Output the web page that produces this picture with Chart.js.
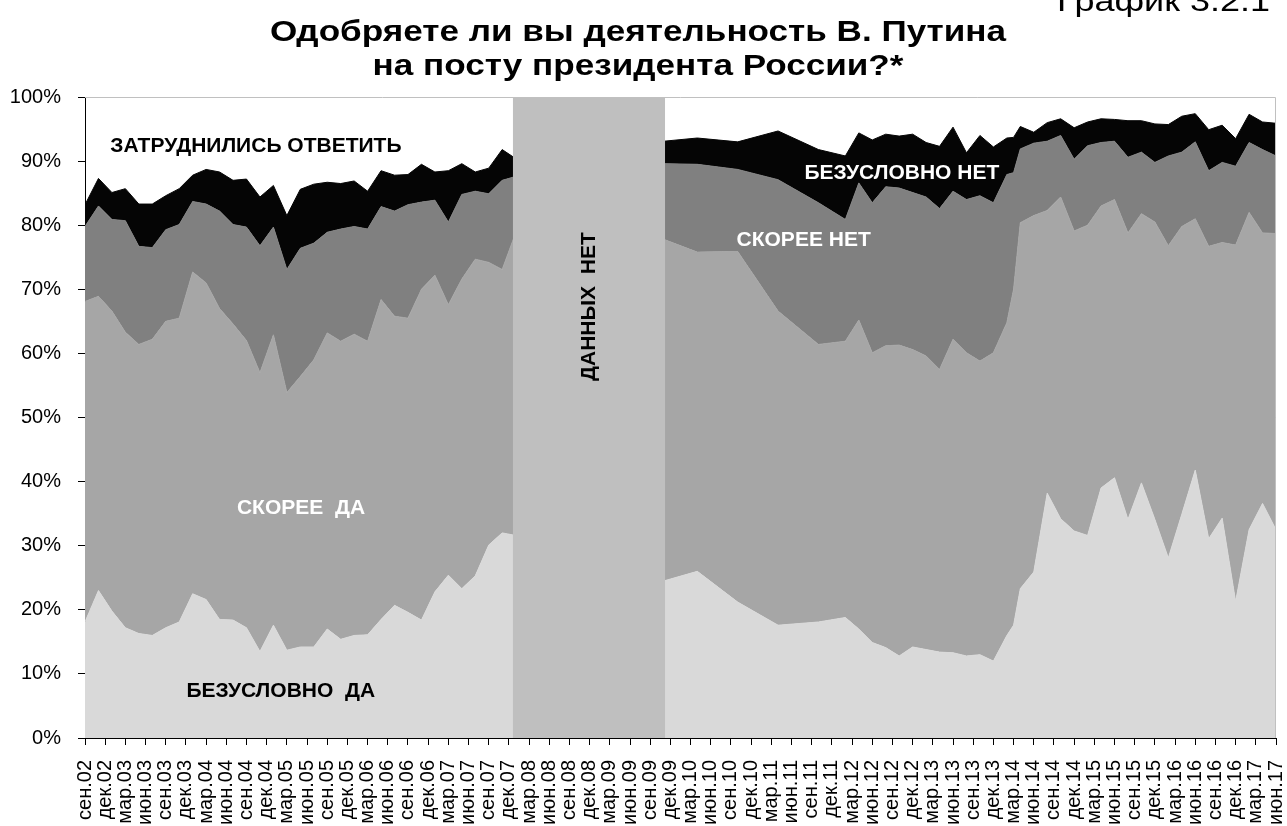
<!DOCTYPE html>
<html lang="ru">
<head>
<meta charset="utf-8">
<title>Одобряете ли вы деятельность В. Путина на посту президента России?</title>
<script src="https://cdn.jsdelivr.net/npm/chart.js@4.4.1/dist/chart.umd.min.js"></script>
<style>
  html, body { margin: 0; padding: 0; background: #fff; }
  #wrap { position: relative; width: 1287px; height: 826px; }
</style>
</head>
<body>
<div id="wrap"><canvas id="putinChart" width="1287" height="826"></canvas></div>
<script>
// x = months counted from Sep 2002 (0) to Jun 2017 (177), ticks every quarter
const tickLabels = [
    'сен.02', 'дек.02', 'мар.03', 'июн.03', 'сен.03', 'дек.03', 'мар.04', 'июн.04', 'сен.04', 'дек.04',
    'мар.05', 'июн.05', 'сен.05', 'дек.05', 'мар.06', 'июн.06', 'сен.06', 'дек.06', 'мар.07', 'июн.07',
    'сен.07', 'дек.07', 'мар.08', 'июн.08', 'сен.08', 'дек.08', 'мар.09', 'июн.09', 'сен.09', 'дек.09',
    'мар.10', 'июн.10', 'сен.10', 'дек.10', 'мар.11', 'июн.11', 'сен.11', 'дек.11', 'мар.12', 'июн.12',
    'сен.12', 'дек.12', 'мар.13', 'июн.13', 'сен.13', 'дек.13', 'мар.14', 'июн.14', 'сен.14', 'дек.14',
    'мар.15', 'июн.15', 'сен.15', 'дек.15', 'мар.16', 'июн.16', 'сен.16', 'дек.16', 'мар.17', 'июн.17'
];

// 2002-2008 surveys
const monthsA = [0, 2, 4, 6, 8, 10, 12, 14, 16, 18, 20, 22, 24, 26, 28, 30, 32,
    34, 36, 38, 40, 42, 44, 46, 48, 50, 52, 54, 56, 58, 60, 62, 64];
const defYesA = [18.1, 23.0, 19.8, 17.2, 16.3, 16.0, 17.2, 18.1, 22.5, 21.6, 18.5, 18.4, 17.2, 13.5, 17.6, 13.7, 14.2,
    14.2, 17.0, 15.4, 16.0, 16.1, 18.5, 20.7, 19.6, 18.4, 22.8, 25.4, 23.3, 25.3, 30.1, 32.0, 31.6];
const ratherYesA = [50.0, 45.9, 46.8, 46.1, 45.1, 46.2, 47.8, 47.4, 50.2, 49.4, 48.5, 46.2, 44.8, 43.5, 45.3, 40.2, 42.2,
    44.8, 46.2, 46.5, 47.0, 45.8, 49.9, 45.1, 45.9, 51.6, 49.4, 42.2, 48.3, 49.4, 44.1, 41.1, 47.2];
const ratherNoA = [11.7, 14.1, 14.3, 17.4, 15.3, 14.3, 14.3, 14.6, 11.0, 12.3, 15.2, 15.5, 17.7, 19.8, 16.8, 19.2, 20.0,
    18.2, 15.7, 17.5, 16.8, 17.5, 14.5, 16.4, 17.7, 13.6, 11.7, 12.9, 13.2, 10.6, 10.7, 13.9, 8.8];
const defNoA = [3.4, 4.3, 4.2, 5.0, 6.6, 6.8, 5.3, 5.6, 4.1, 5.4, 6.1, 6.9, 7.5, 7.6, 6.5, 8.4, 9.2,
    9.2, 7.8, 7.1, 7.1, 5.9, 5.6, 5.6, 4.7, 5.9, 4.4, 8.0, 4.8, 3.0, 4.0, 4.8, 2.8];

// 2009-2017 surveys
const monthsB = [86, 91, 97, 103, 109, 113, 115, 117, 119, 121, 123, 125, 127, 129, 131, 133, 135, 137, 138, 139,
    141, 143, 145, 147, 149, 151, 153, 155, 157, 159, 161, 163, 165, 167, 169, 171, 173, 175, 177];
const defYesB = [24.5, 26.0, 21.2, 17.6, 18.1, 18.8, 17.0, 14.9, 14.1, 12.8, 14.2, 13.8, 13.4, 13.3, 12.8, 13.0, 12.0, 16.0, 17.6, 23.3,
    25.9, 38.2, 34.2, 32.3, 31.6, 39.0, 40.6, 34.1, 39.8, 34.1, 28.1, 34.9, 41.8, 31.1, 34.3, 21.3, 32.5, 36.6, 32.5];
const ratherYesB = [53.3, 49.8, 54.7, 49.0, 43.3, 43.1, 48.2, 45.2, 47.1, 48.5, 46.4, 45.8, 44.1, 48.9, 47.3, 45.8, 48.1, 48.8, 52.4, 57.1,
    55.6, 44.1, 50.2, 46.8, 48.4, 44.0, 43.4, 44.7, 42.0, 46.4, 48.7, 44.9, 39.2, 45.6, 43.0, 55.6, 49.5, 42.2, 46.2];
const ratherNoB = [11.8, 13.7, 12.8, 20.5, 22.1, 19.0, 21.4, 23.4, 24.8, 24.5, 24.5, 24.8, 25.1, 23.1, 23.9, 25.8, 23.4, 23.1, 18.2, 11.5,
    11.3, 10.8, 9.6, 11.2, 12.4, 9.9, 9.1, 11.8, 9.6, 9.3, 14.0, 11.6, 12.0, 11.8, 12.5, 12.3, 10.9, 13.0, 12.1];
const defNoB = [3.5, 4.1, 4.3, 7.6, 8.3, 9.9, 7.8, 9.8, 8.2, 8.1, 9.1, 8.5, 9.7, 10.0, 7.3, 9.4, 8.7, 5.7, 5.5, 3.5,
    1.7, 2.9, 2.6, 4.9, 3.7, 3.7, 3.4, 5.7, 4.9, 6.0, 4.9, 5.6, 4.4, 6.4, 5.8, 4.3, 4.4, 4.3, 5.1];

// period without data (months)
const noDataFrom = 63.6;
const noDataTo = 86.2;

const FONT = '"Liberation Sans", Arial, Helvetica, sans-serif';

function toPoints(months, values) {
    return months.map((m, i) => ({ x: m, y: values[i] }));
}

function series(a, b) {
    const gap = { x: (noDataFrom + noDataTo) / 2, y: null };
    return toPoints(monthsA, a).concat([gap], toPoints(monthsB, b));
}

function area(label, data, color, fill) {
    return {
        label: label,
        data: data,
        backgroundColor: color,
        borderColor: color,
        borderWidth: 1,
        pointRadius: 0,
        tension: 0,
        fill: fill
    };
}

// texts placed inside the plot, in data units
const areaLabels = [
    { text: 'ЗАТРУДНИЛИСЬ ОТВЕТИТЬ', x: 25.4, y: 92.4, color: '#000' },
    { text: 'БЕЗУСЛОВНО НЕТ', x: 121.4, y: 88.1, color: '#fff' },
    { text: 'СКОРЕЕ НЕТ', x: 106.8, y: 77.7, color: '#fff' },
    { text: 'СКОРЕЕ  ДА', x: 32.1, y: 35.8, color: '#fff' },
    { text: 'БЕЗУСЛОВНО  ДА', x: 29.1, y: 7.3, color: '#000' }
];

const decorPlugin = {
    id: 'decor',
    afterDatasetsDraw(chart) {
        const ctx = chart.ctx;
        const xs = chart.scales.x;
        const ys = chart.scales.y;
        const area = chart.chartArea;

        // no data block
        const x1 = xs.getPixelForValue(noDataFrom);
        const x2 = xs.getPixelForValue(noDataTo);
        ctx.save();
        ctx.fillStyle = '#bfbfbf';
        ctx.fillRect(x1, area.top, x2 - x1, area.bottom - area.top);

        ctx.font = 'bold 21px ' + FONT;
        ctx.textAlign = 'center';
        ctx.textBaseline = 'middle';
        ctx.fillStyle = '#000';
        ctx.save();
        ctx.translate((x1 + x2) / 2, ys.getPixelForValue(67.3));
        ctx.rotate(-Math.PI / 2);
        ctx.fillText('ДАННЫХ  НЕТ', 0, 0);
        ctx.restore();

        areaLabels.forEach(l => {
            ctx.fillStyle = l.color;
            ctx.fillText(l.text, xs.getPixelForValue(l.x), ys.getPixelForValue(l.y));
        });

        // light frame on top and right
        ctx.strokeStyle = '#c0c0c0';
        ctx.lineWidth = 1;
        ctx.beginPath();
        ctx.moveTo(area.left, area.top + 0.5);
        ctx.lineTo(area.right - 0.5, area.top + 0.5);
        ctx.lineTo(area.right - 0.5, area.bottom);
        ctx.stroke();
        ctx.restore();
    },
    afterDraw(chart) {
        const ctx = chart.ctx;
        ctx.save();
        ctx.fillStyle = '#000';
        ctx.textBaseline = 'alphabetic';

        ctx.font = 'bold 29px ' + FONT;
        ctx.textAlign = 'center';
        ctx.save();
        ctx.translate(638, 0);
        ctx.scale(1.21, 1);
        ctx.fillText('Одобряете ли вы деятельность В. Путина', 0, 41);
        ctx.fillText('на посту президента России?*', 0, 75);
        ctx.restore();

        ctx.font = '30px ' + FONT;
        ctx.textAlign = 'right';
        ctx.save();
        ctx.translate(1270, 0);
        ctx.scale(1.2, 1);
        ctx.fillText('График 3.2.1', 0, 11);
        ctx.restore();
        ctx.restore();
    }
};

new Chart(document.getElementById('putinChart'), {
    type: 'line',
    data: {
        datasets: [
            area('Безусловно да', series(defYesA, defYesB), '#d9d9d9', 'origin'),
            area('Скорее да', series(ratherYesA, ratherYesB), '#a6a6a6', '-1'),
            area('Скорее нет', series(ratherNoA, ratherNoB), '#808080', '-1'),
            area('Безусловно нет', series(defNoA, defNoB), '#050505', '-1')
        ]
    },
    options: {
        responsive: false,
        animation: false,
        layout: { padding: { top: 97, right: 11, left: 0, bottom: 0 } },
        plugins: {
            legend: { display: false },
            tooltip: { enabled: false },
            title: { display: false }
        },
        scales: {
            x: {
                type: 'linear',
                min: 0,
                max: 177,
                z: 1,
                grid: { drawOnChartArea: false, tickLength: 7, color: '#000' },
                border: { color: '#000' },
                ticks: {
                    stepSize: 3,
                    autoSkip: false,
                    minRotation: 90,
                    maxRotation: 90,
                    padding: 15,
                    color: '#000',
                    font: { family: FONT, size: 20 },
                    callback: v => tickLabels[Math.round(v / 3)]
                },
                afterFit: s => {
                    s.height = 88;
                    s.paddingLeft = 0;
                    s.paddingRight = 0;
                }
            },
            y: {
                stacked: true,
                min: 0,
                max: 100,
                z: 1,
                grid: { drawOnChartArea: false, tickLength: 7, color: '#000' },
                border: { color: '#000' },
                ticks: {
                    stepSize: 10,
                    padding: 17,
                    color: '#000',
                    font: { family: FONT, size: 20 },
                    callback: v => v + '%'
                },
                afterFit: s => { s.width = 85; }
            }
        }
    },
    plugins: [decorPlugin]
});
</script>
</body>
</html>
